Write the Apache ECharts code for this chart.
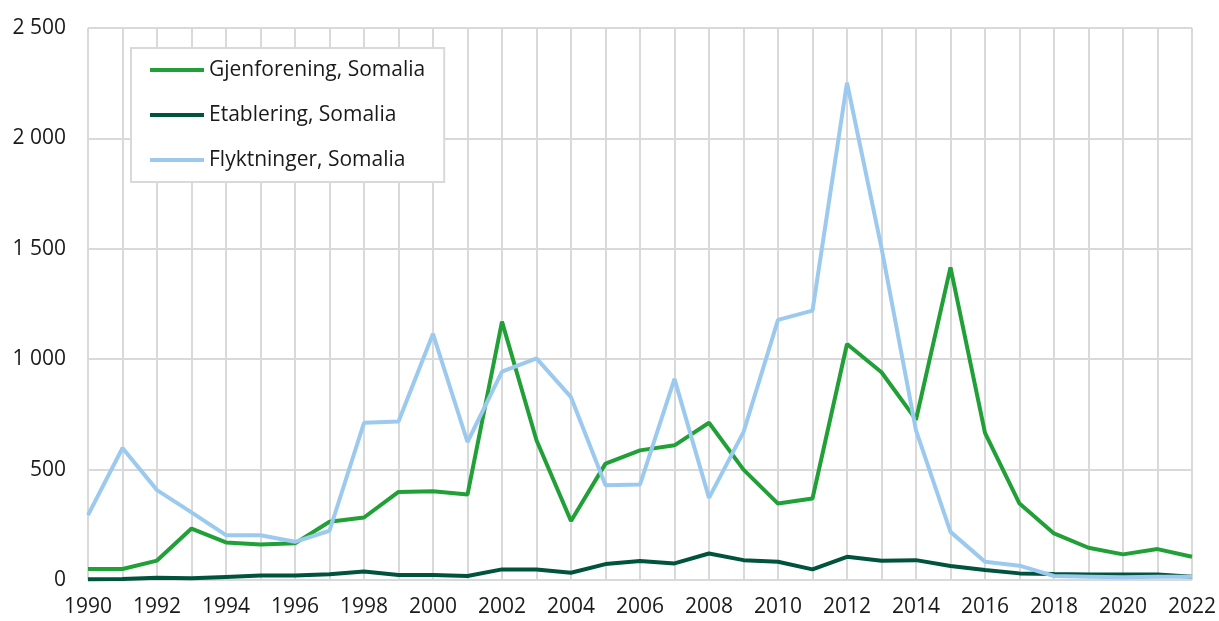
<!DOCTYPE html>
<html>
<head>
<meta charset="utf-8">
<script src="https://cdn.jsdelivr.net/npm/echarts@6/dist/echarts.min.js"></script>
<style>
  html, body { margin: 0; padding: 0; background: #fff; }
  #chart { width: 1219px; height: 621px; }
</style>
</head>
<body>
<div id="chart"></div>
<script>
var years = [];
for (var y = 1990; y <= 2022; y++) years.push(String(y));

// verdier lest av figuren
var gjenforening = [50, 50, 88, 233, 170, 161, 166, 264, 283, 399, 402, 387, 1170, 633, 267,
  527, 587, 610, 712, 500, 346, 369, 1069, 941, 726, 1416, 666, 346, 211, 146, 116, 140, 105];
var etablering = [3, 5, 10, 8, 14, 20, 20, 26, 38, 23, 23, 18, 48, 48, 33,
  72, 86, 75, 120, 90, 83, 48, 105, 87, 90, 63, 45, 30, 27, 25, 25, 25, 15];
var flyktninger = [294, 598, 407, 306, 203, 203, 173, 223, 712, 718, 1115, 625, 944, 1004, 828,
  429, 432, 911, 372, 670, 1178, 1220, 2252, 1504, 678, 218, 83, 65, 18, 15, 12, 15, 15];

var seriesNames = ["Gjenforening, Somalia", "Etablering, Somalia", "Flyktninger, Somalia"];
var colors = ["#21a038", "#00533d", "#9ccaee"];

var gridColor = "#d9d9d9";
var font = "'Open Sans', 'Noto Sans', sans-serif";

function fmt(v) {
  return String(v).replace(/\B(?=(\d{3})+(?!\d))/g, " ");
}

function makeSeries(name, data, color) {
  return {
    name: name,
    type: "line",
    data: data,
    symbol: "none",
    smooth: false,
    lineStyle: { color: color, width: 4 },
    itemStyle: { color: color }
  };
}

var chart = echarts.init(document.getElementById("chart"));
chart.setOption({
  animation: false,
  backgroundColor: "#fff",
  grid: { left: 88, right: 27, top: 28, bottom: 41, containLabel: false },
  legend: {
    orient: "vertical",
    left: 131,
    top: 48,
    padding: [11, 19, 11, 19],
    itemGap: 23,
    itemWidth: 54,
    itemHeight: 4,
    icon: "rect",
    backgroundColor: "#fff",
    borderColor: gridColor,
    borderWidth: 2,
    borderRadius: 0,
    textStyle: { fontFamily: font, fontSize: 21, color: "#1a1a1a", lineHeight: 22, padding: [0, 0, 0, 0] },
    data: seriesNames
  },
  xAxis: {
    type: "category",
    data: years,
    boundaryGap: false,
    axisLine: { show: false },
    axisTick: { show: false },
    axisLabel: { interval: 1, fontFamily: font, fontSize: 21, color: "#1a1a1a", margin: 17 },
    splitLine: { show: true, interval: 0, lineStyle: { color: gridColor, width: 2 } }
  },
  yAxis: {
    type: "value",
    min: 0,
    max: 2500,
    interval: 500,
    axisLine: { show: false },
    axisTick: { show: false },
    axisLabel: { fontFamily: font, fontSize: 21, color: "#1a1a1a", margin: 22, formatter: fmt },
    splitLine: { show: true, lineStyle: { color: gridColor, width: 2 } }
  },
  series: [
    makeSeries(seriesNames[0], gjenforening, colors[0]),
    makeSeries(seriesNames[1], etablering, colors[1]),
    makeSeries(seriesNames[2], flyktninger, colors[2])
  ]
});
</script>
</body>
</html>
